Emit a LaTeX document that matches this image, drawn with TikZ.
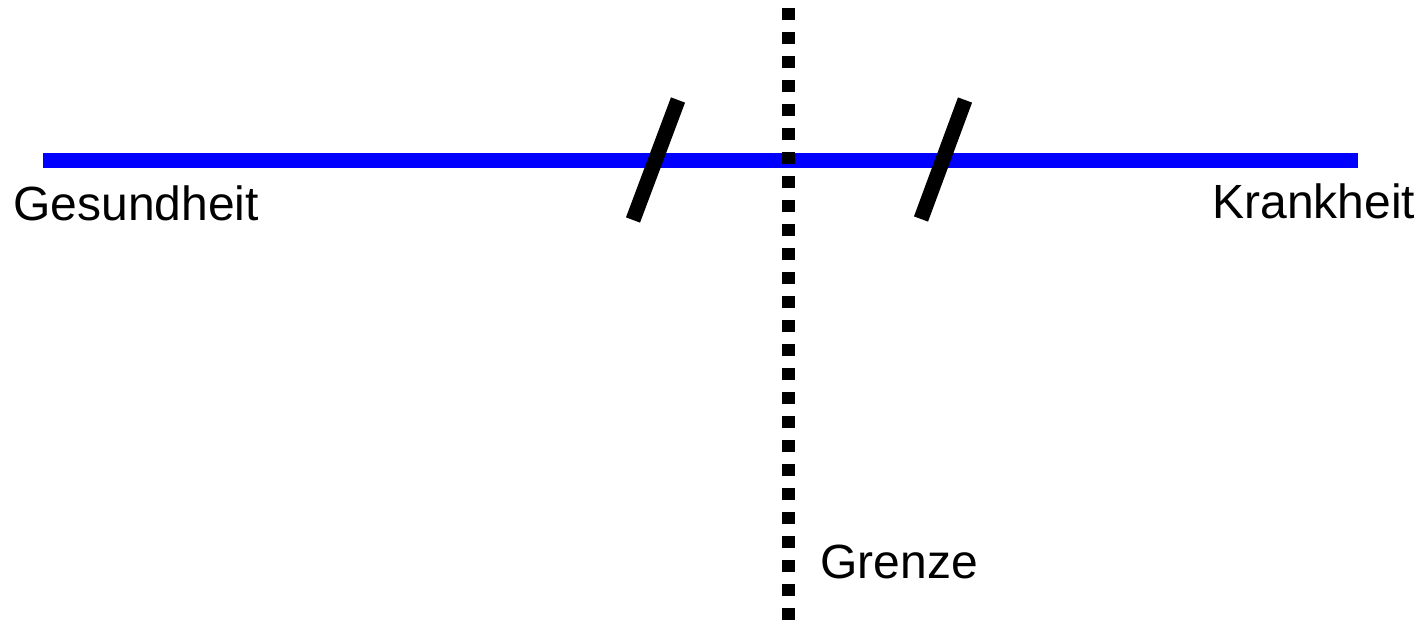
\documentclass[tikz,border=0pt]{standalone}
\usepackage{fontspec}
\setmainfont{Liberation Sans}
\begin{document}
\begin{tikzpicture}[x=0.5pt, y=-0.5pt,
    axis/.style={blue, line width=7.5pt},
    mark line/.style={black, line width=7.5pt},
    border line/.style={black, line width=6.5pt, dash pattern=on 6pt off 6pt},
    label/.style={font=\fontsize{24}{28}\selectfont, inner sep=0pt, anchor=base west}]
    % Canvas
    \useasboundingbox (0,0) rectangle (1424,621);

    % Blue axis from health to illness
    \coordinate (axisL) at (43,160);
    \coordinate (axisR) at (1358,160);
    \draw[axis] (axisL) -- (axisR);

    % Dotted border
    \coordinate (borderT) at (788,8);
    \coordinate (borderB) at (788,626);
    \draw[border line] (borderT) -- (borderB);

    % Two marks on the axis
    \coordinate (markAT) at (678,100);
    \coordinate (markAB) at (633,220);
    \coordinate (markBT) at (965,100);
    \coordinate (markBB) at (921,219);
    \draw[mark line] (markAT) -- (markAB);
    \draw[mark line] (markBT) -- (markBB);

    % Labels
    \node[label] (health) at (13,220) {Gesundheit};
    \node[label] (illness) at (1212,218) {Krankheit};
    \node[label] (border) at (820,578) {Grenze};
\end{tikzpicture}
\end{document}
